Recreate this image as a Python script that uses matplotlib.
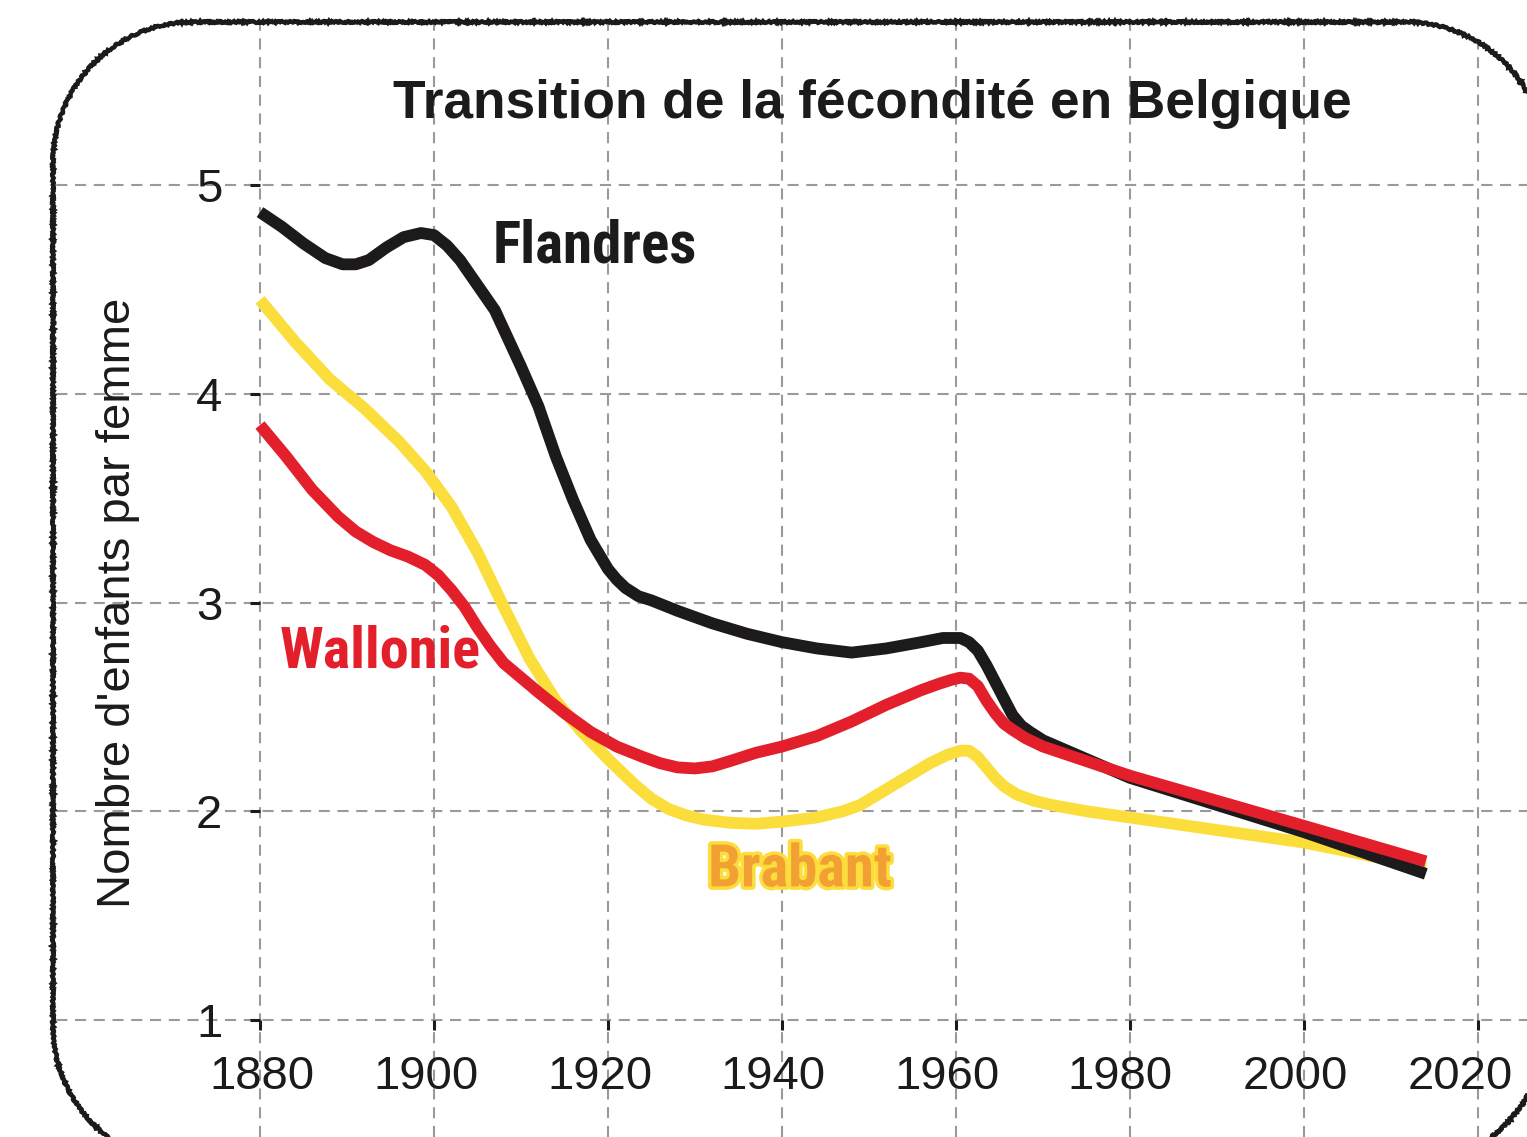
import numpy as np
import matplotlib
matplotlib.use("Agg")
import matplotlib.pyplot as plt
import matplotlib.patheffects as pe
from matplotlib.patches import PathPatch
from matplotlib.path import Path
from matplotlib.transforms import IdentityTransform, ScaledTranslation
from matplotlib import font_manager as fm

# --- data: total fertility (children per woman) by region ---
years_flandres = [1880, 1882.5, 1885, 1887.5, 1889.5, 1891, 1892.5, 1894.5, 1896.5, 1898.5,
                  1900, 1901.5, 1903, 1905, 1907, 1910, 1912, 1914, 1916, 1918, 1919,
                  1920, 1921, 1922, 1923.5, 1925, 1928, 1932, 1936, 1940, 1944, 1948,
                  1952, 1956, 1958.5, 1960.5, 1961.5, 1962.5, 1963.5, 1964.5, 1965.5,
                  1966.5, 1967.5, 1968.5, 1970, 1975, 1980, 1990, 2000, 2014]
flandres = [4.87, 4.80, 4.72, 4.65, 4.62, 4.62, 4.64, 4.70, 4.75, 4.77,
            4.76, 4.71, 4.64, 4.52, 4.40, 4.13, 3.94, 3.70, 3.49, 3.30, 3.23,
            3.16, 3.11, 3.07, 3.03, 3.01, 2.96, 2.90, 2.85, 2.81, 2.78, 2.76,
            2.78, 2.81, 2.83, 2.83, 2.81, 2.77, 2.70, 2.62, 2.54,
            2.46, 2.41, 2.38, 2.34, 2.25, 2.16, 2.03, 1.90, 1.70]

years_wallonie = [1880, 1883, 1886, 1889, 1891, 1893, 1895, 1897, 1899, 1900.5, 1902,
                  1903.5, 1905, 1906.5, 1908, 1910, 1912, 1915, 1918, 1921, 1924, 1926,
                  1928, 1930, 1932, 1934, 1937, 1940, 1944, 1948, 1952, 1956, 1958,
                  1959.5, 1960.5, 1961.5, 1962.5, 1963.5, 1964.5, 1965.5, 1966.5, 1968,
                  1970, 1975, 1980, 1990, 2000, 2014]
wallonie = [3.85, 3.70, 3.54, 3.41, 3.34, 3.29, 3.25, 3.22, 3.18, 3.13, 3.06,
            2.98, 2.88, 2.79, 2.71, 2.64, 2.57, 2.47, 2.38, 2.31, 2.26, 2.23,
            2.21, 2.205, 2.215, 2.24, 2.28, 2.31, 2.36, 2.43, 2.51, 2.58, 2.61,
            2.63, 2.64, 2.635, 2.60, 2.53, 2.47, 2.42, 2.39, 2.35,
            2.31, 2.24, 2.17, 2.05, 1.93, 1.76]

years_brabant = [1880, 1884, 1888, 1892, 1896, 1899, 1902, 1905, 1908, 1911, 1914,
                 1917, 1920, 1923, 1925, 1927, 1929, 1931, 1934, 1937, 1940, 1944,
                 1947, 1949, 1951, 1953, 1955, 1957, 1959, 1960.5, 1961.5, 1962.5,
                 1963.5, 1964.5, 1965.5, 1967, 1969, 1971, 1975, 1980, 1990, 2000,
                 2006, 2014]
brabant = [4.45, 4.25, 4.07, 3.93, 3.77, 3.63, 3.46, 3.24, 2.98, 2.73, 2.53,
           2.38, 2.25, 2.13, 2.06, 2.01, 1.98, 1.96, 1.945, 1.94, 1.95, 1.97,
           2.00, 2.03, 2.08, 2.13, 2.18, 2.23, 2.27, 2.29, 2.29, 2.26,
           2.21, 2.16, 2.12, 2.08, 2.05, 2.03, 2.00, 1.97, 1.91, 1.85,
           1.80, 1.73]

x_ticks = [1880, 1900, 1920, 1940, 1960, 1980, 2000, 2020]
y_ticks = [1, 2, 3, 4, 5]

title = "Transition de la fécondité en Belgique"
ylabel = "Nombre d'enfants par femme"

# --- style ---
BLACK = "#1c1a1b"
RED = "#e21f2a"
YELLOW = "#fbdd3b"
ORANGE = "#f2a033"
GRID = "#9a9a9a"

plt.rcParams["lines.scale_dashes"] = False
plt.rcParams["font.family"] = ["Liberation Sans", "DejaVu Sans"]


def condensed_font():
    """Pick a bold condensed face if one is installed."""
    fonts = fm.fontManager.ttflist
    names = {f.name for f in fonts}
    for n in ["Liberation Sans Narrow", "Roboto Condensed", "Open Sans Condensed",
              "Noto Sans Condensed", "DejaVu Sans Condensed"]:
        if n in names:
            return dict(family=n)
    for fam in ["Noto Sans", "Roboto", "DejaVu Sans", "Open Sans", "Lato", "Inter"]:
        for f in fonts:
            if f.name == fam and "condensed" in str(f.stretch) and \
                    (f.weight in ("bold", 700) or str(f.weight) == "700"):
                return dict(family=fam, stretch=f.stretch)
    return dict(family="Liberation Sans")


W, H, DPI = 1527, 1137, 100
fig = plt.figure(figsize=(W / DPI, H / DPI), dpi=DPI, facecolor="white")
ax = fig.add_axes([0, 0, 1, 1])
ax.patch.set_visible(False)

# scale: pixel anchors of the first/last ticks
px_x0, px_x1 = 260, 1478
px_y1, px_y5 = 1020, 185
ppy = (px_x1 - px_x0) / (x_ticks[-1] - x_ticks[0])
ppu = (px_y1 - px_y5) / (y_ticks[-1] - y_ticks[0])
ax.set_xlim(x_ticks[0] - px_x0 / ppy, x_ticks[0] + (W - px_x0) / ppy)
ax.set_ylim(y_ticks[0] - (H - px_y1) / ppu, y_ticks[0] + px_y1 / ppu)

for s in ax.spines.values():
    s.set_visible(False)
ax.spines["left"].set_position(("data", x_ticks[0]))
ax.spines["bottom"].set_position(("data", y_ticks[0]))
ax.set_xticks(x_ticks)
ax.set_yticks(y_ticks)
ax.tick_params(axis="both", direction="out", length=7.2, width=2.2,
               color=BLACK, labelcolor=BLACK, labelsize=34)
ax.tick_params(axis="x", pad=18)
ax.tick_params(axis="y", pad=20)

# year labels sit slightly left of their ticks
x_label_shift_px = [2, -8, -8, -9, -9, -10, -9, -18]
for lab, dx in zip(ax.get_xticklabels(), x_label_shift_px):
    lab.set_transform(lab.get_transform() + ScaledTranslation(dx / DPI, 0, fig.dpi_scale_trans))


# rounded frame in pixel coordinates (y up)
def rounded_frame(x0, y0, x1, y1, r, n=48):
    pts = []
    corners = [((x1 - r, y0 + r), -90, 0), ((x1 - r, y1 - r), 0, 90),
               ((x0 + r, y1 - r), 90, 180), ((x0 + r, y0 + r), 180, 270)]
    for (cx, cy), a0, a1 in corners:
        t = np.radians(np.linspace(a0, a1, n))
        pts.extend(zip(cx + r * np.cos(t), cy + r * np.sin(t)))
    pts.append(pts[0])
    codes = [Path.MOVETO] + [Path.LINETO] * (len(pts) - 2) + [Path.CLOSEPOLY]
    return Path(pts, codes)


frame = rounded_frame(53, H - 1166, 1546, H - 22, 140)
clip_patch = PathPatch(frame, transform=IdentityTransform(), facecolor="none", edgecolor="none")
border = PathPatch(frame, transform=IdentityTransform(), facecolor="none",
                   edgecolor=BLACK, linewidth=3.2, zorder=10)
border.set_sketch_params(scale=0.9, length=4, randomness=3)
fig.add_artist(border)

# dashed grid clipped to the frame
for xv in x_ticks:
    ln = ax.axvline(xv, color=GRID, lw=1.5, dashes=(8, 5.5), zorder=1)
    ln.set_clip_path(clip_patch)
for yv in y_ticks:
    ln = ax.axhline(yv, color=GRID, lw=1.5, dashes=(8, 5.5), zorder=1)
    ln.set_clip_path(clip_patch)

line_kw = dict(lw=8.5, solid_capstyle="butt", solid_joinstyle="round")
ax.plot(years_brabant, brabant, color=YELLOW, zorder=3, **line_kw)
ax.plot(years_flandres, flandres, color=BLACK, zorder=4, **line_kw)
ax.plot(years_wallonie, wallonie, color=RED, zorder=5, **line_kw)

# region names in a bold condensed face, sized to a set width
cond = condensed_font()
lab_kw = dict(fontsize=40, fontweight="bold", ha="left", va="baseline", zorder=6,
              family=cond["family"])
if "stretch" in cond:
    lab_kw["fontstretch"] = cond["stretch"]
t_fl = ax.text(1906.7, 4.63, "Flandres", color=BLACK, **lab_kw)
t_wa = ax.text(1882.3, 2.69, "Wallonie", color=RED, **lab_kw)
t_br = ax.text(1931.5, 1.64, "Brabant", color=ORANGE,
               path_effects=[pe.withStroke(linewidth=5, foreground=YELLOW)], **lab_kw)
renderer = fig.canvas.get_renderer()
for t, width_px in [(t_fl, 204), (t_wa, 201), (t_br, 184)]:
    w = t.get_window_extent(renderer).width
    t.set_fontsize(min(46, t.get_fontsize() * width_px / w))

fig.text(872 / W, 1 - 118 / H, title, ha="center", va="baseline",
         fontsize=38.3, fontweight="bold", color=BLACK)
fig.text(118 / W, 1 - 603 / H, ylabel, rotation=90, ha="center", va="center",
         fontsize=34, color=BLACK)

fig.savefig("out.png", dpi=DPI, facecolor="white")
